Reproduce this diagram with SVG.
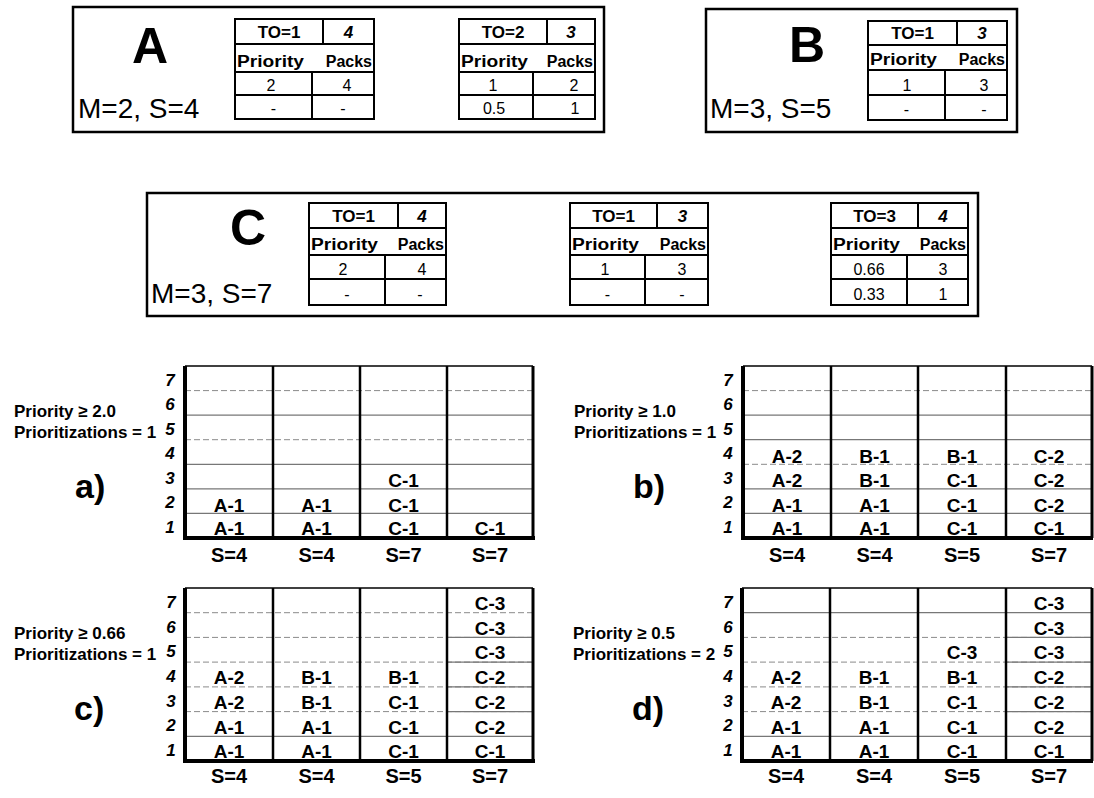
<svg xmlns="http://www.w3.org/2000/svg" width="1094" height="798" viewBox="0 0 1094 798">
<style>
text{font-family:"Liberation Sans",Arial,Helvetica,sans-serif;fill:#000}
.box{fill:none;stroke:#000;stroke-width:2.5}
.tb{fill:none;stroke:#000;stroke-width:2}
.tl{stroke:#000;stroke-width:2}
.big{font-size:50px;font-weight:bold;text-anchor:middle}
.ms{font-size:28px}
.th{font-size:17px;font-weight:bold;text-anchor:middle}
.thi{font-size:17px;font-weight:bold;font-style:italic;text-anchor:middle}
.ph{font-size:16px;font-weight:bold}
.pe{font-size:16px;font-weight:bold;text-anchor:end}
.num{font-size:16px;text-anchor:middle}
.ax{fill:none;stroke:#000;stroke-width:4}
.col{stroke:#000;stroke-width:2.5}
.rb{stroke:#000;stroke-width:3}
.top{stroke:#000;stroke-width:1.5}
.g{stroke:#777;stroke-width:1.2}
.gd{stroke:#8a8a8a;stroke-width:1;stroke-dasharray:6 3}
.cl{font-size:19px;font-weight:bold;text-anchor:middle}
.yn{font-size:17px;font-weight:bold;font-style:italic;text-anchor:middle}
.sl{font-size:20px;font-weight:bold;text-anchor:middle}
.pl{font-size:17px;font-weight:bold}
.let{font-size:34px;font-weight:bold}
</style>

<g id="node-A">
<rect class="box" x="73" y="7" width="531" height="125"/>
<text class="big" x="150" y="63">A</text>
<text class="ms" x="78" y="118">M=2, S=4</text>
<g id="table-A1">
<rect class="tb" x="235" y="19" width="139" height="100"/>
<line class="tl" x1="235" y1="44" x2="374" y2="44"/>
<line class="tl" x1="235" y1="72" x2="374" y2="72"/>
<line class="tl" x1="235" y1="95" x2="374" y2="95"/>
<line class="tl" x1="323" y1="19" x2="323" y2="44"/>
<line class="tl" x1="312" y1="72" x2="312" y2="119"/>
<text class="th" x="279" y="38">TO=1</text>
<text class="thi" x="348.5" y="38">4</text>
<text class="ph" x="237" y="67" textLength="67" lengthAdjust="spacingAndGlyphs">Priority</text>
<text class="pe" x="372" y="67">Packs</text>
<text class="num" x="271" y="91">2</text>
<text class="num" x="347" y="91">4</text>
<text class="num" x="273.5" y="114">-</text>
<text class="num" x="343" y="114">-</text>
</g>
<g id="table-A2">
<rect class="tb" x="459" y="19" width="136" height="100"/>
<line class="tl" x1="459" y1="44" x2="595" y2="44"/>
<line class="tl" x1="459" y1="72" x2="595" y2="72"/>
<line class="tl" x1="459" y1="95" x2="595" y2="95"/>
<line class="tl" x1="547" y1="19" x2="547" y2="44"/>
<line class="tl" x1="533" y1="72" x2="533" y2="119"/>
<text class="th" x="503" y="38">TO=2</text>
<text class="thi" x="571" y="38">3</text>
<text class="ph" x="461" y="67" textLength="67" lengthAdjust="spacingAndGlyphs">Priority</text>
<text class="pe" x="593" y="67">Packs</text>
<text class="num" x="493" y="91">1</text>
<text class="num" x="574" y="91">2</text>
<text class="num" x="494" y="114">0.5</text>
<text class="num" x="575" y="114">1</text>
</g>
</g>

<g id="node-B">
<rect class="box" x="706" y="9" width="311" height="123"/>
<text class="big" x="807" y="62">B</text>
<text class="ms" x="710" y="118">M=3, S=5</text>
<g id="table-B1">
<rect class="tb" x="868" y="21" width="139" height="99"/>
<line class="tl" x1="868" y1="45" x2="1007" y2="45"/>
<line class="tl" x1="868" y1="70" x2="1007" y2="70"/>
<line class="tl" x1="868" y1="95" x2="1007" y2="95"/>
<line class="tl" x1="957" y1="21" x2="957" y2="45"/>
<line class="tl" x1="945" y1="70" x2="945" y2="120"/>
<text class="th" x="912.5" y="39">TO=1</text>
<text class="thi" x="982" y="39">3</text>
<text class="ph" x="870" y="65" textLength="67" lengthAdjust="spacingAndGlyphs">Priority</text>
<text class="pe" x="1005" y="65">Packs</text>
<text class="num" x="907" y="91">1</text>
<text class="num" x="984" y="91">3</text>
<text class="num" x="906.5" y="115">-</text>
<text class="num" x="984" y="115">-</text>
</g>
</g>

<g id="node-C">
<rect class="box" x="147" y="193" width="831" height="123"/>
<text class="big" x="248" y="245">C</text>
<text class="ms" x="151" y="303">M=3, S=7</text>
<g id="table-C1">
<rect class="tb" x="309" y="203" width="137" height="102"/>
<line class="tl" x1="309" y1="228" x2="446" y2="228"/>
<line class="tl" x1="309" y1="255" x2="446" y2="255"/>
<line class="tl" x1="309" y1="279" x2="446" y2="279"/>
<line class="tl" x1="398" y1="203" x2="398" y2="228"/>
<line class="tl" x1="385" y1="255" x2="385" y2="305"/>
<text class="th" x="353.5" y="222">TO=1</text>
<text class="thi" x="422" y="222">4</text>
<text class="ph" x="311" y="250" textLength="67" lengthAdjust="spacingAndGlyphs">Priority</text>
<text class="pe" x="444" y="250">Packs</text>
<text class="num" x="343" y="275">2</text>
<text class="num" x="422" y="275">4</text>
<text class="num" x="347" y="300">-</text>
<text class="num" x="420" y="300">-</text>
</g>
<g id="table-C2">
<rect class="tb" x="570" y="203" width="138" height="102"/>
<line class="tl" x1="570" y1="228" x2="708" y2="228"/>
<line class="tl" x1="570" y1="255" x2="708" y2="255"/>
<line class="tl" x1="570" y1="279" x2="708" y2="279"/>
<line class="tl" x1="657" y1="203" x2="657" y2="228"/>
<line class="tl" x1="645" y1="255" x2="645" y2="305"/>
<text class="th" x="613.5" y="222">TO=1</text>
<text class="thi" x="682.5" y="222">3</text>
<text class="ph" x="572" y="250" textLength="67" lengthAdjust="spacingAndGlyphs">Priority</text>
<text class="pe" x="706" y="250">Packs</text>
<text class="num" x="605" y="275">1</text>
<text class="num" x="682" y="275">3</text>
<text class="num" x="607.5" y="300">-</text>
<text class="num" x="682" y="300">-</text>
</g>
<g id="table-C3">
<rect class="tb" x="831" y="203" width="137" height="102"/>
<line class="tl" x1="831" y1="228" x2="968" y2="228"/>
<line class="tl" x1="831" y1="255" x2="968" y2="255"/>
<line class="tl" x1="831" y1="279" x2="968" y2="279"/>
<line class="tl" x1="918" y1="203" x2="918" y2="228"/>
<line class="tl" x1="907" y1="255" x2="907" y2="305"/>
<text class="th" x="874.5" y="222">TO=3</text>
<text class="thi" x="943" y="222">4</text>
<text class="ph" x="833" y="250" textLength="67" lengthAdjust="spacingAndGlyphs">Priority</text>
<text class="pe" x="966" y="250">Packs</text>
<text class="num" x="869" y="275">0.66</text>
<text class="num" x="943" y="275">3</text>
<text class="num" x="869" y="300">0.33</text>
<text class="num" x="943" y="300">1</text>
</g>
</g>

<g id="chart-a">
<text class="pl" x="14" y="417">Priority ≥ 2.0</text>
<text class="pl" x="14" y="438">Prioritizations = 1</text>
<text class="let" x="75" y="498">a)</text>
<line class="gd" x1="185" y1="390.6" x2="533" y2="390.6"/>
<line class="g" x1="185" y1="415.1" x2="533" y2="415.1"/>
<line class="gd" x1="185" y1="439.7" x2="533" y2="439.7"/>
<line class="g" x1="185" y1="464.3" x2="533" y2="464.3"/>
<line class="g" x1="185" y1="488.9" x2="533" y2="488.9"/>
<line class="g" x1="185" y1="513.4" x2="533" y2="513.4"/>
<line class="top" x1="185" y1="366" x2="533" y2="366"/>
<line class="col" x1="273" y1="366" x2="273" y2="538"/>
<line class="col" x1="360" y1="366" x2="360" y2="538"/>
<line class="col" x1="447" y1="366" x2="447" y2="538"/>
<line class="rb" x1="533" y1="366" x2="533" y2="538"/>
<path class="ax" d="M185,366 V538 H535"/>
<text class="yn" x="170" y="386">7</text>
<text class="yn" x="170" y="410">6</text>
<text class="yn" x="170" y="435">5</text>
<text class="yn" x="170" y="459">4</text>
<text class="yn" x="170" y="484">3</text>
<text class="yn" x="170" y="508">2</text>
<text class="yn" x="170" y="533">1</text>
<text class="cl" x="229" y="535">A-1</text>
<text class="cl" x="229" y="511.5">A-1</text>
<text class="cl" x="316.5" y="535">A-1</text>
<text class="cl" x="316.5" y="511.5">A-1</text>
<text class="cl" x="403.5" y="535">C-1</text>
<text class="cl" x="403.5" y="511.5">C-1</text>
<text class="cl" x="403.5" y="487">C-1</text>
<text class="cl" x="490" y="535">C-1</text>
<text class="sl" x="229" y="562">S=4</text>
<text class="sl" x="316.5" y="562">S=4</text>
<text class="sl" x="403.5" y="562">S=7</text>
<text class="sl" x="490" y="562">S=7</text>
</g>

<g id="chart-b">
<text class="pl" x="574" y="417">Priority ≥ 1.0</text>
<text class="pl" x="574" y="438">Prioritizations = 1</text>
<text class="let" x="633" y="498">b)</text>
<line class="gd" x1="743" y1="390.6" x2="1092" y2="390.6"/>
<line class="g" x1="743" y1="415.1" x2="1092" y2="415.1"/>
<line class="g" x1="743" y1="439.7" x2="1092" y2="439.7"/>
<line class="gd" x1="743" y1="464.3" x2="1092" y2="464.3"/>
<line class="g" x1="743" y1="488.9" x2="1092" y2="488.9"/>
<line class="g" x1="743" y1="513.4" x2="1092" y2="513.4"/>
<line class="top" x1="743" y1="366" x2="1092" y2="366"/>
<line class="col" x1="831" y1="366" x2="831" y2="538"/>
<line class="col" x1="918" y1="366" x2="918" y2="538"/>
<line class="col" x1="1006" y1="366" x2="1006" y2="538"/>
<line class="rb" x1="1092" y1="366" x2="1092" y2="538"/>
<path class="ax" d="M743,366 V538 H1093"/>
<text class="yn" x="728" y="386">7</text>
<text class="yn" x="728" y="410">6</text>
<text class="yn" x="728" y="435">5</text>
<text class="yn" x="728" y="459">4</text>
<text class="yn" x="728" y="484">3</text>
<text class="yn" x="728" y="508">2</text>
<text class="yn" x="728" y="533">1</text>
<text class="cl" x="787" y="535">A-1</text>
<text class="cl" x="787" y="511.5">A-1</text>
<text class="cl" x="787" y="487">A-2</text>
<text class="cl" x="787" y="462.5">A-2</text>
<text class="cl" x="874.5" y="535">A-1</text>
<text class="cl" x="874.5" y="511.5">A-1</text>
<text class="cl" x="874.5" y="487">B-1</text>
<text class="cl" x="874.5" y="462.5">B-1</text>
<text class="cl" x="962" y="535">C-1</text>
<text class="cl" x="962" y="511.5">C-1</text>
<text class="cl" x="962" y="487">C-1</text>
<text class="cl" x="962" y="462.5">B-1</text>
<text class="cl" x="1049" y="535">C-1</text>
<text class="cl" x="1049" y="511.5">C-2</text>
<text class="cl" x="1049" y="487">C-2</text>
<text class="cl" x="1049" y="462.5">C-2</text>
<text class="sl" x="787" y="562">S=4</text>
<text class="sl" x="874.5" y="562">S=4</text>
<text class="sl" x="962" y="562">S=5</text>
<text class="sl" x="1049" y="562">S=7</text>
</g>

<g id="chart-c">
<text class="pl" x="14" y="639">Priority ≥ 0.66</text>
<text class="pl" x="14" y="660">Prioritizations = 1</text>
<text class="let" x="74" y="720">c)</text>
<line class="gd" x1="185" y1="612.7" x2="533" y2="612.7"/>
<line class="gd" x1="185" y1="637.4" x2="533" y2="637.4"/>
<line class="gd" x1="185" y1="662.1" x2="533" y2="662.1"/>
<line class="gd" x1="185" y1="686.9" x2="533" y2="686.9"/>
<line class="gd" x1="185" y1="711.6" x2="533" y2="711.6"/>
<line class="g" x1="185" y1="736.3" x2="533" y2="736.3"/>
<line class="g" x1="447" y1="637.4" x2="533" y2="637.4"/>
<line class="g" x1="447" y1="662.1" x2="533" y2="662.1"/>
<line class="g" x1="447" y1="686.9" x2="533" y2="686.9"/>
<line class="g" x1="447" y1="711.6" x2="533" y2="711.6"/>
<line class="top" x1="185" y1="588" x2="533" y2="588"/>
<line class="col" x1="273" y1="588" x2="273" y2="761"/>
<line class="col" x1="360" y1="588" x2="360" y2="761"/>
<line class="col" x1="447" y1="588" x2="447" y2="761"/>
<line class="rb" x1="533" y1="588" x2="533" y2="761"/>
<path class="ax" d="M185,588 V761 H535"/>
<text class="yn" x="171" y="607.5">7</text>
<text class="yn" x="171" y="632.5">6</text>
<text class="yn" x="171" y="657">5</text>
<text class="yn" x="171" y="682">4</text>
<text class="yn" x="171" y="706.5">3</text>
<text class="yn" x="171" y="731">2</text>
<text class="yn" x="171" y="756">1</text>
<text class="cl" x="229" y="758">A-1</text>
<text class="cl" x="229" y="733.5">A-1</text>
<text class="cl" x="229" y="708.5">A-2</text>
<text class="cl" x="229" y="684">A-2</text>
<text class="cl" x="316.5" y="758">A-1</text>
<text class="cl" x="316.5" y="733.5">A-1</text>
<text class="cl" x="316.5" y="708.5">B-1</text>
<text class="cl" x="316.5" y="684">B-1</text>
<text class="cl" x="403.5" y="758">C-1</text>
<text class="cl" x="403.5" y="733.5">C-1</text>
<text class="cl" x="403.5" y="708.5">C-1</text>
<text class="cl" x="403.5" y="684">B-1</text>
<text class="cl" x="490" y="758">C-1</text>
<text class="cl" x="490" y="733.5">C-2</text>
<text class="cl" x="490" y="708.5">C-2</text>
<text class="cl" x="490" y="684">C-2</text>
<text class="cl" x="490" y="659">C-3</text>
<text class="cl" x="490" y="634.5">C-3</text>
<text class="cl" x="490" y="610">C-3</text>
<text class="sl" x="229" y="783">S=4</text>
<text class="sl" x="316.5" y="783">S=4</text>
<text class="sl" x="403.5" y="783">S=5</text>
<text class="sl" x="490" y="783">S=7</text>
</g>

<g id="chart-d">
<text class="pl" x="573" y="639">Priority ≥ 0.5</text>
<text class="pl" x="573" y="660">Prioritizations = 2</text>
<text class="let" x="632" y="720">d)</text>
<line class="g" x1="742" y1="612.7" x2="1092" y2="612.7"/>
<line class="gd" x1="742" y1="637.4" x2="1092" y2="637.4"/>
<line class="gd" x1="742" y1="662.1" x2="1092" y2="662.1"/>
<line class="gd" x1="742" y1="686.9" x2="1092" y2="686.9"/>
<line class="gd" x1="742" y1="711.6" x2="1092" y2="711.6"/>
<line class="g" x1="742" y1="736.3" x2="1092" y2="736.3"/>
<line class="g" x1="1006" y1="637.4" x2="1092" y2="637.4"/>
<line class="g" x1="1006" y1="662.1" x2="1092" y2="662.1"/>
<line class="g" x1="1006" y1="686.9" x2="1092" y2="686.9"/>
<line class="g" x1="1006" y1="711.6" x2="1092" y2="711.6"/>
<line class="top" x1="742" y1="588" x2="1092" y2="588"/>
<line class="col" x1="830" y1="588" x2="830" y2="761"/>
<line class="col" x1="918" y1="588" x2="918" y2="761"/>
<line class="col" x1="1006" y1="588" x2="1006" y2="761"/>
<line class="rb" x1="1092" y1="588" x2="1092" y2="761"/>
<path class="ax" d="M742,588 V761 H1093"/>
<text class="yn" x="728" y="607.5">7</text>
<text class="yn" x="728" y="632.5">6</text>
<text class="yn" x="728" y="657">5</text>
<text class="yn" x="728" y="682">4</text>
<text class="yn" x="728" y="706.5">3</text>
<text class="yn" x="728" y="731">2</text>
<text class="yn" x="728" y="756">1</text>
<text class="cl" x="786" y="758">A-1</text>
<text class="cl" x="786" y="733.5">A-1</text>
<text class="cl" x="786" y="708.5">A-2</text>
<text class="cl" x="786" y="684">A-2</text>
<text class="cl" x="874" y="758">A-1</text>
<text class="cl" x="874" y="733.5">A-1</text>
<text class="cl" x="874" y="708.5">B-1</text>
<text class="cl" x="874" y="684">B-1</text>
<text class="cl" x="962" y="758">C-1</text>
<text class="cl" x="962" y="733.5">C-1</text>
<text class="cl" x="962" y="708.5">C-1</text>
<text class="cl" x="962" y="684">B-1</text>
<text class="cl" x="962" y="659">C-3</text>
<text class="cl" x="1049" y="758">C-1</text>
<text class="cl" x="1049" y="733.5">C-2</text>
<text class="cl" x="1049" y="708.5">C-2</text>
<text class="cl" x="1049" y="684">C-2</text>
<text class="cl" x="1049" y="659">C-3</text>
<text class="cl" x="1049" y="634.5">C-3</text>
<text class="cl" x="1049" y="610">C-3</text>
<text class="sl" x="786" y="783">S=4</text>
<text class="sl" x="874" y="783">S=4</text>
<text class="sl" x="962" y="783">S=5</text>
<text class="sl" x="1049" y="783">S=7</text>
</g>
<g id="connectors"/>
</svg>
